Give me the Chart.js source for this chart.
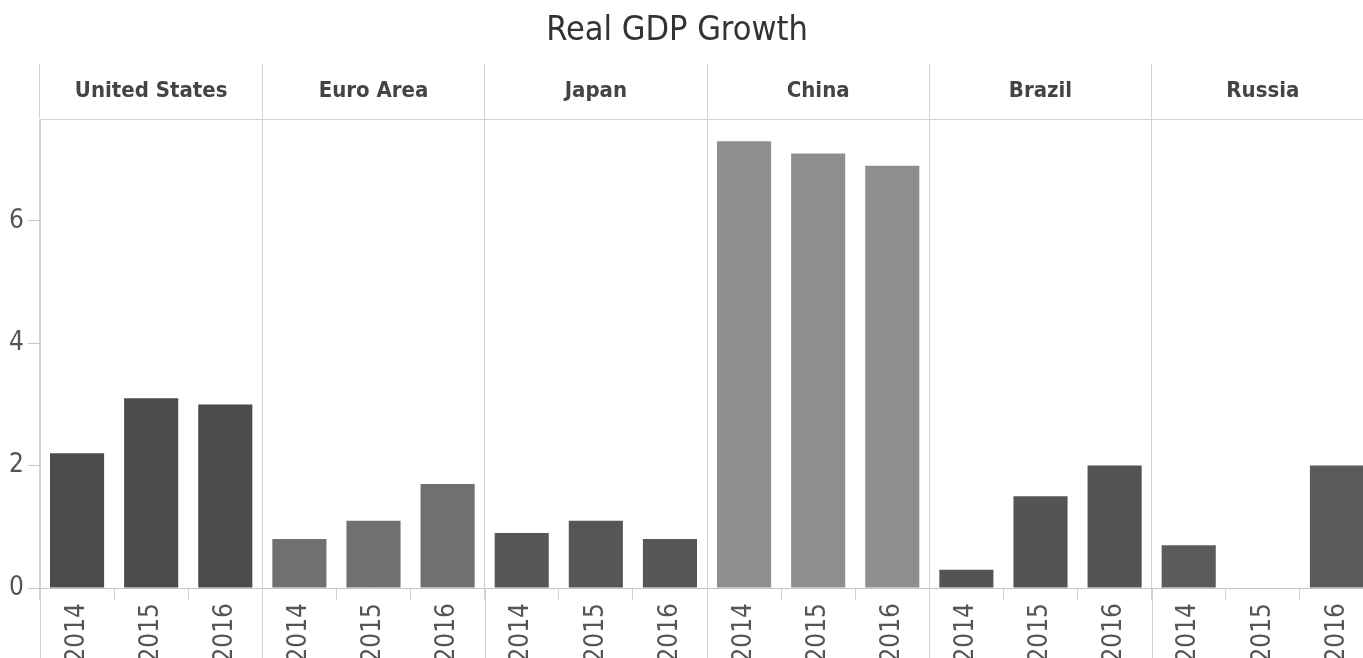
<!DOCTYPE html>
<html>
<head>
<meta charset="utf-8">
<script src="https://cdn.jsdelivr.net/npm/chart.js@4"></script>
<style>
  html, body { margin: 0; padding: 0; background: #fff; overflow: hidden; }
  #wrap { position: relative; width: 1375px; height: 658px; }
</style>
</head>
<body>
<div id="wrap"><canvas id="c"></canvas></div>
<script>
// ---- data ----
const countries = ['United States', 'Euro Area', 'Japan', 'China', 'Brazil', 'Russia'];
const years = ['2014', '2015', '2016'];
const unitedStates = [2.2, 3.1, 3.0];
const euroArea = [0.8, 1.1, 1.7];
const japan = [0.9, 1.1, 0.8];
const china = [7.3, 7.1, 6.9];
const brazil = [0.3, 1.5, 2.0];
const russia = [0.7, 0.0, 2.0];
const yTicks = [0, 2, 4, 6];

// ---- styles ----
const countryColors = ['#4b4b4b', '#707070', '#565656', '#8e8e8e', '#545454', '#5b5b5b'];
const series = [unitedStates, euroArea, japan, china, brazil, russia];

const labels = [];
const values = [];
const colors = [];
countries.forEach((c, i) => {
  years.forEach((y, j) => {
    labels.push(y);
    values.push(series[i][j]);
    colors.push(countryColors[i]);
  });
});

const narrow = "'Liberation Sans Narrow', 'DejaVu Sans Condensed', 'Liberation Sans', sans-serif";
const lineCol = '#d2d2d2';

const extendDividers = {
  id: 'extendDividers',
  afterDraw(chart) {
    const xs = chart.scales.x;
    const ctx = chart.ctx;
    const half = (xs.getPixelForValue(1) - xs.getPixelForValue(0)) / 2;
    ctx.save();
    ctx.strokeStyle = lineCol;
    ctx.lineWidth = 1;
    for (let k = 0; k <= countries.length; k++) {
      const idx = k * years.length;
      const px = Math.round(xs.getPixelForValue(Math.min(idx, labels.length - 1)) + (idx >= labels.length ? half : -half)) + 0.5;
      ctx.beginPath();
      ctx.moveTo(px, chart.chartArea.bottom);
      ctx.lineTo(px, chart.height);
      ctx.stroke();
    }
    ctx.restore();
  }
};

new Chart(document.getElementById('c'), {
  type: 'bar',
  data: {
    labels: labels,
    datasets: [{
      data: values,
      backgroundColor: colors,
      borderColor: colors,
      borderWidth: 0,
      barPercentage: 0.73,
      categoryPercentage: 1.0,
      xAxisID: 'x',
      yAxisID: 'y'
    }]
  },
  options: {
    responsive: true,
    maintainAspectRatio: false,
    animation: false,
    layout: { padding: { left: -20, right: 1, top: 0, bottom: 0 } },
    plugins: {
      legend: { display: false },
      tooltip: { enabled: false },
      title: {
        display: true,
        text: 'Real GDP Growth',
        color: '#333',
        font: { family: "'DejaVu Sans Condensed', 'DejaVu Sans', sans-serif", size: 34, weight: 'normal' },
        padding: { top: 11, bottom: 12 }
      }
    },
    scales: {
      x: {
        type: 'category',
        position: 'bottom',
        offset: true,
        grid: { offset: true, drawOnChartArea: false, color: lineCol, tickLength: 12 },
        border: { display: true, color: '#c4c4c4' },
        ticks: {
          color: '#555',
          font: { family: narrow, size: 26 },
          minRotation: 90, maxRotation: 90,
          padding: 3,
          autoSkip: false
        },
        afterFit(s) { s.height = 70; }
      },
      x2: {
        type: 'category',
        position: 'top',
        labels: countries,
        offset: true,
        grid: { offset: true, drawOnChartArea: true, color: lineCol, tickLength: 56 },
        border: { display: true, color: lineCol },
        ticks: {
          color: '#444',
          font: { family: narrow, size: 22, weight: 'bold' },
          padding: -41,
          autoSkip: false,
          maxRotation: 0
        },
        afterFit(s) { s.height = 56; }
      },
      y: {
        type: 'linear',
        min: 0,
        max: 7.65,
        grid: { drawOnChartArea: false, color: '#c4c4c4', tickLength: 12 },
        border: { display: true, color: lineCol },
        ticks: {
          stepSize: 2,
          color: '#555',
          font: { family: narrow, size: 26 },
          padding: 4
        },
        afterBuildTicks(s) { s.ticks = yTicks.map(v => ({ value: v })); },
        afterFit(s) { s.width = 60; }
      }
    }
  },
  plugins: [extendDividers]
});
</script>
</body>
</html>
